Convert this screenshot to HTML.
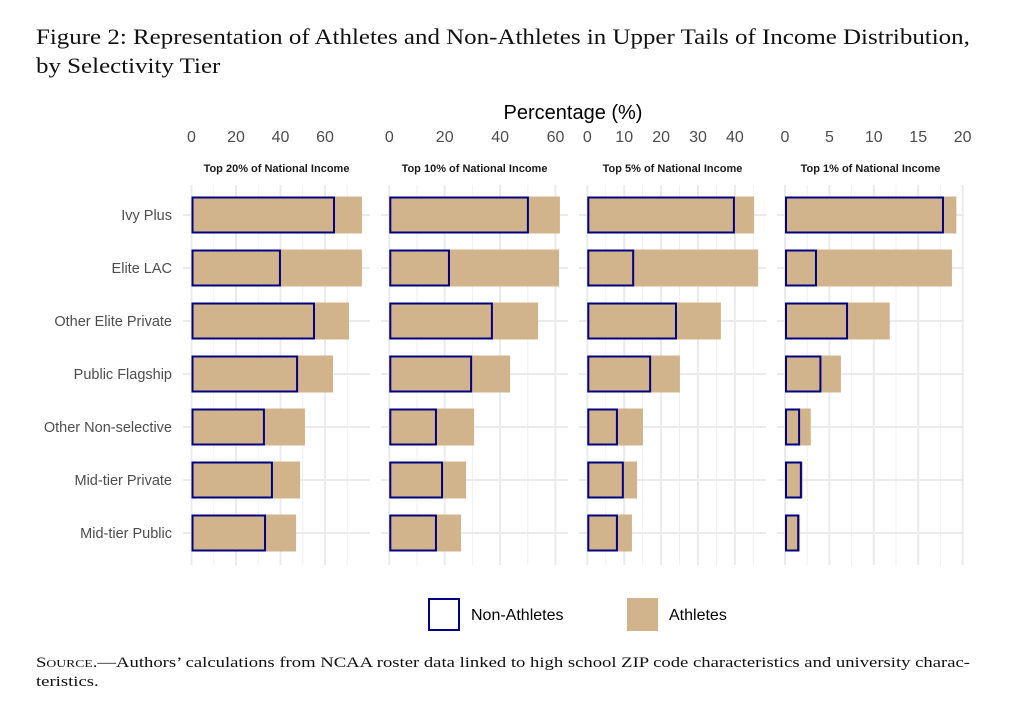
<!DOCTYPE html>
<html><head><meta charset="utf-8"><style>
html,body{margin:0;padding:0;background:#fff;}
body{width:1033px;height:701px;overflow:hidden;position:relative;}
.title{position:absolute;left:36px;top:22px;font-family:"Liberation Serif",serif;font-size:22px;line-height:29px;color:#111;transform:scaleX(1.134);transform-origin:0 0;white-space:nowrap;}
.src{position:absolute;left:36px;top:654px;font-family:"Liberation Serif",serif;font-size:15px;line-height:19px;color:#111;white-space:nowrap;transform-origin:0 0;}
.sc{font-variant:small-caps;}
svg{position:absolute;left:0;top:0;}
</style></head><body>
<div class="title">Figure 2: Representation of Athletes and Non-Athletes in Upper Tails of Income Distribution,<br>by Selectivity Tier</div>
<svg id="chart" width="1033" height="701"></svg>
<div class="src" id="src"><span id="l1"><span class="sc">Source</span>.—Authors’ calculations from NCAA roster data linked to high school ZIP code characteristics and university charac-</span><br>teristics.</div>
<script>
const categories=["Ivy Plus","Elite LAC","Other Elite Private","Public Flagship","Other Non-selective","Mid-tier Private","Mid-tier Public"];
const panelTitles=["Top 20% of National Income","Top 10% of National Income","Top 5% of National Income","Top 1% of National Income"];
const nonAthletes20=[64.5,40.2,55.5,47.9,33,36.6,33.5];
const athletes20=[76.6,76.6,70.8,63.6,51,48.8,47];
const nonAthletes10=[50.4,21.9,37.4,29.9,17.2,19.4,17.2];
const athletes10=[61.6,61.3,53.7,43.6,30.6,27.7,25.9];
const nonAthletes5=[40,12.7,24.3,17.3,8.3,9.9,8.3];
const athletes5=[45.2,46.3,36.2,25.1,15.1,13.5,12.1];
const nonAthletes1=[17.9,3.6,7.1,4.1,1.7,1.9,1.6];
const athletes1=[19.3,18.8,11.8,6.3,2.9,2.0,1.7];
const ticks20=[0,20,40,60];
const ticks10=[0,20,40,60];
const ticks5=[0,10,20,30,40];
const ticks1=[0,5,10,15,20];
const minor20=[10,30,50,70];
const minor10=[10,30,50,60];
const minor5=[5,15,25,35,45];
const minor1=[2.5,7.5,12.5,17.5];

const NS="http://www.w3.org/2000/svg";
const svg=document.getElementById('chart');
function mk(tag,attrs,parent){const e=document.createElementNS(NS,tag);for(const k in attrs)e.setAttribute(k,attrs[k]);(parent||svg).appendChild(e);return e;}
const panels=[
 {x0:191.5,ppu:2.225,left:183,right:370,non:nonAthletes20,ath:athletes20,ticks:ticks20,minor:minor20},
 {x0:389.3,ppu:2.77,left:381,right:568,non:nonAthletes10,ath:athletes10,ticks:ticks10,minor:minor10},
 {x0:587.3,ppu:3.69,left:579,right:766,non:nonAthletes5,ath:athletes5,ticks:ticks5,minor:minor5},
 {x0:785,ppu:8.88,left:777,right:964,non:nonAthletes1,ath:athletes1,ticks:ticks1,minor:minor1}
];
const rowY=i=>215+53*i;
const barH=37;
const F='"Liberation Sans",Arial,sans-serif';
categories.forEach((c,i)=>{
  const t=mk('text',{x:172,y:rowY(i)+5,'text-anchor':'end','font-family':F,'font-size':14.5,fill:'#4d4d4d'});
  
  
  t.textContent=c;
});
panels.forEach((p,pi)=>{
  const g=mk('g',{});
  
  
  const X=v=>p.x0+v*p.ppu;
  p.minor.forEach(v=>{const x=X(v);if(x<p.right)mk('line',{x1:x,x2:x,y1:185,y2:565,stroke:'#f0f0f0','stroke-width':1},g);});
  p.ticks.forEach(v=>{mk('line',{x1:X(v),x2:X(v),y1:185,y2:565,stroke:'#ebebeb','stroke-width':2},g);
    const t=mk('text',{x:X(v),y:142,'text-anchor':'middle','font-family':F,'font-size':16,fill:'#4d4d4d'},g);
    
    
    t.textContent=v;});
  categories.forEach((c,i)=>mk('line',{x1:p.left,x2:p.right,y1:rowY(i),y2:rowY(i),stroke:'#ebebeb','stroke-width':2},g));
  const st=mk('text',{x:(p.left+p.right)/2,y:172,'text-anchor':'middle','font-family':F,'font-size':11,'font-weight':'bold',fill:'#1a1a1a'},g);
  
  
  st.textContent=panelTitles[pi];
  categories.forEach((c,i)=>{
    const y=rowY(i)-barH/2;
    const a=mk('rect',{x:X(0),y:y,width:p.ath[i]*p.ppu,height:barH,fill:'#D2B48C'},g);
    
    
    const n=mk('rect',{x:X(0)+1,y:y+1,width:Math.max(p.non[i]*p.ppu-2,0),height:barH-2,fill:'none',stroke:'#000080','stroke-width':2},g);
    
    
  });
});
const ax=mk('text',{x:573,y:119,'text-anchor':'middle','font-family':F,'font-size':20,fill:'#000'});


ax.textContent='Percentage (%)';
const l1=mk('rect',{x:429,y:599,width:30,height:31,fill:'#fff',stroke:'#000080','stroke-width':2});


const lt1=mk('text',{x:471,y:620,'font-family':F,'font-size':16,fill:'#000'});


lt1.textContent='Non-Athletes';
const l2=mk('rect',{x:627,y:598,width:31,height:33,fill:'#D2B48C'});


const lt2=mk('text',{x:669,y:620,'font-family':F,'font-size':16,fill:'#000'});


lt2.textContent='Athletes';
const w=document.getElementById('l1').getBoundingClientRect().width;
document.getElementById('src').style.transform='scaleX('+(934/w)+')';
</script>
</body></html>
